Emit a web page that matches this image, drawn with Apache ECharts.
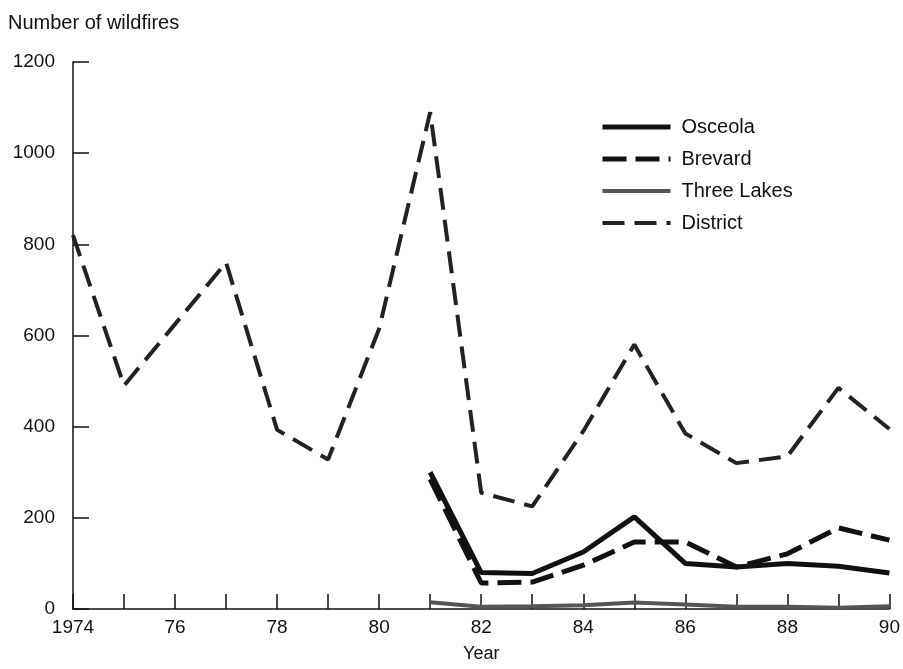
<!DOCTYPE html>
<html>
<head>
<meta charset="utf-8">
<script src="https://cdn.jsdelivr.net/npm/echarts@6/dist/echarts.min.js"></script>
<style>
html,body{margin:0;padding:0;background:#fff;}
#chart{width:903px;height:669px;}
</style>
</head>
<body>
<div id="chart"></div>
<script>
var years = ['1974','1975','1976','1977','1978','1979','1980','1981','1982','1983','1984','1985','1986','1987','1988','1989','1990'];
var xTickLabels = ['1974','','76','','78','','80','','82','','84','','86','','88','','90'];
var yTicks = [0, 200, 400, 600, 800, 1000, 1200];
var district   = [820, 490, 625, 760, 393, 328, 615, 1090, 255, 225, 390, 580, 385, 320, 335, 485, 395];
var osceola    = [null, null, null, null, null, null, null, 300, 80, 78, 125, 202, 100, 92, 100, 94, 79];
var brevard    = [null, null, null, null, null, null, null, 285, 57, 59, 96, 147, 147, 92, 121, 178, 151];
var threeLakes = [null, null, null, null, null, null, null, 15, 5, 6, 8, 14, 10, 5, 5, 3, 6];

var font = '"Liberation Sans", Arial, Helvetica, sans-serif';
var styles = {
  'Osceola':     {color: '#111', width: 5, type: 'solid'},
  'Brevard':     {color: '#111', width: 5, type: [24, 9]},
  'Three Lakes': {color: '#555', width: 4, type: 'solid'},
  'District':    {color: '#222', width: 4, type: [22, 10]}
};
var names = ['Osceola', 'Brevard', 'Three Lakes', 'District'];
var seriesData = {'Osceola': osceola, 'Brevard': brevard, 'Three Lakes': threeLakes, 'District': district};

var chart = echarts.init(document.getElementById('chart'));
chart.setOption({
  animation: false,
  backgroundColor: '#fff',
  title: {
    text: 'Number of wildfires',
    left: 3, top: 8,
    textStyle: {fontFamily: font, fontSize: 20, fontWeight: 'normal', color: '#111'}
  },
  legend: {
    orient: 'vertical',
    left: 595, top: 112,
    itemWidth: 68, itemHeight: 20,
    itemGap: 12,
    itemStyle: {opacity: 0},
    textStyle: {fontFamily: font, fontSize: 20, color: '#111', padding: [0, 0, 0, 6]},
    data: names.map(function (n) {
      return {name: n, itemStyle: {opacity: 0}, lineStyle: {color: styles[n].color, width: styles[n].width, type: styles[n].type}};
    })
  },
  grid: {left: 73, right: 11, top: 62, bottom: 60, containLabel: false},
  xAxis: {
    type: 'category',
    data: years,
    boundaryGap: false,
    name: 'Year',
    nameLocation: 'middle',
    nameGap: 36,
    nameTextStyle: {fontFamily: font, fontSize: 18, color: '#111'},
    axisLine: {lineStyle: {color: '#111', width: 1.5}},
    axisTick: {inside: true, length: 15, interval: 0, lineStyle: {color: '#111', width: 1.5}},
    axisLabel: {
      interval: 0, margin: 9,
      fontFamily: font, fontSize: 19, color: '#111',
      formatter: function (v, i) { return xTickLabels[i]; }
    },
    splitLine: {show: false}
  },
  yAxis: {
    type: 'value',
    min: yTicks[0], max: yTicks[yTicks.length - 1], interval: 200,
    axisLine: {show: true, lineStyle: {color: '#111', width: 1.5}},
    axisTick: {show: true, inside: true, length: 16, lineStyle: {color: '#111', width: 1.5}},
    axisLabel: {
      margin: 18, fontFamily: font, fontSize: 19, color: '#111',
      formatter: function (v) { return String(v); }
    },
    splitLine: {show: false}
  },
  series: names.map(function (n, i) {
    return {
      name: n, type: 'line', data: seriesData[n], symbol: 'none',
      lineStyle: {color: styles[n].color, width: styles[n].width, type: styles[n].type},
      itemStyle: {color: styles[n].color},
      z: 4 - i
    };
  })
});
</script>
</body>
</html>
